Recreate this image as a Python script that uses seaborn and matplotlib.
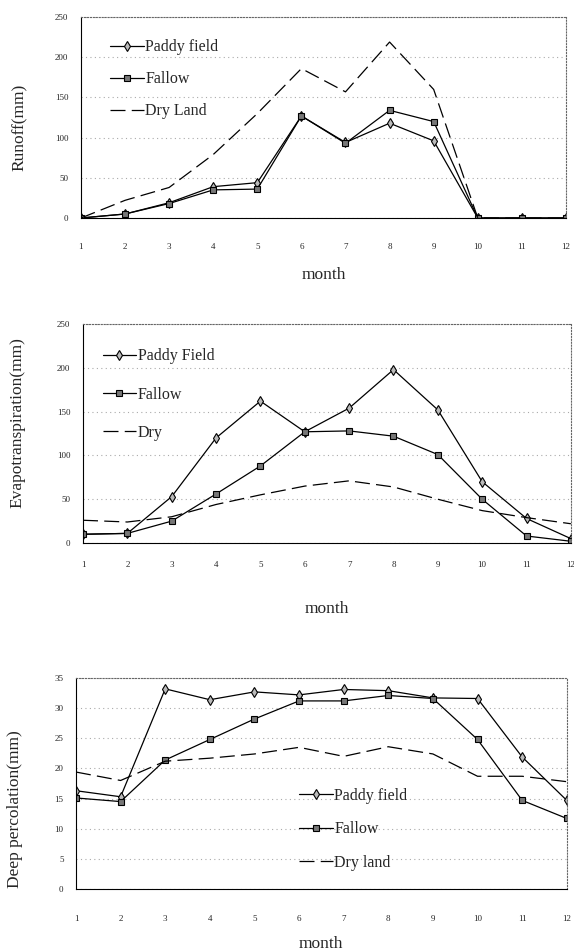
import numpy as np
import matplotlib
matplotlib.use("Agg")
import matplotlib.pyplot as plt
import seaborn as sns

sns.set_style("white")
plt.rcParams['font.family'] = ['Liberation Serif', 'DejaVu Serif']

# months 1-12
months = list(range(1, 13))

# runoff (mm)
paddy_runoff = [0, 5, 19, 39, 44, 127, 94, 118, 96, 0, 0, 0]
fallow_runoff = [0, 5, 18, 35, 36, 127, 93, 134, 120, 0, 0, 0]
dry_runoff = [0, 22, 38, 79, 130, 186, 157, 219, 160, 0, 0, 0]

# evapotranspiration (mm)
paddy_et = [10, 11, 53, 120, 162, 127, 154, 198, 152, 70, 28, 5]
fallow_et = [10, 11, 25, 56, 88, 127, 128, 122, 101, 50, 8, 2]
dry_et = [26, 24, 30, 44, 55, 65, 71, 64, 50, 37, 29, 22]

# deep percolation (mm)
paddy_dp = [16.3, 15.3, 33.2, 31.4, 32.7, 32.2, 33.1, 32.9, 31.7, 31.6, 21.9, 14.7]
fallow_dp = [15.1, 14.5, 21.4, 24.8, 28.2, 31.2, 31.2, 32.1, 31.6, 24.8, 14.7, 11.7]
dry_dp = [19.4, 18.0, 21.2, 21.7, 22.4, 23.5, 22.0, 23.6, 22.4, 18.7, 18.7, 17.8]

ylabels = ['Runoff(mm)', 'Evapotranspiration(mm)', 'Deep percolation(mm)']
legend_names = [
    ['Paddy field', 'Fallow', 'Dry Land'],
    ['Paddy Field', 'Fallow', 'Dry'],
    ['Paddy field', 'Fallow', 'Dry land'],
]
series = [
    (paddy_runoff, fallow_runoff, dry_runoff),
    (paddy_et, fallow_et, dry_et),
    (paddy_dp, fallow_dp, dry_dp),
]
ylims = [(0, 250, 50), (0, 250, 50), (0, 35, 5)]

# layout (figure fractions) and label offsets per panel
ax_rects = [
    [0.141, 0.771, 0.845, 0.211],
    [0.1446, 0.4296, 0.850, 0.230],
    [0.1324, 0.0662, 0.855, 0.2216],
]
tick_pads = [18, 13, 19]
xlabel_y = [-0.244, -0.265, -0.223]
ylabel_pos = [(-0.126, 0.45), (-0.135, 0.55), (-0.124, 0.38)]
legend_anchor = [(0.06, 0.89), (0.04, 0.89), (0.455, 0.48)]
legend_spacing = [1.0, 1.4, 1.1]

fig = plt.figure(figsize=(5.74, 9.52), dpi=100)

for i in range(3):
    ax = fig.add_axes(ax_rects[i])
    paddy, fallow, dry = series[i]
    names = legend_names[i]

    sns.lineplot(x=months, y=paddy, ax=ax, color='black', lw=0.9,
                 marker='d', markersize=5.5, markerfacecolor='#bbbbbb',
                 markeredgecolor='black', markeredgewidth=0.8, label=names[0])
    sns.lineplot(x=months, y=fallow, ax=ax, color='black', lw=0.9,
                 marker='s', markersize=5, markerfacecolor='#777777',
                 markeredgecolor='black', markeredgewidth=0.8, label=names[1])
    sns.lineplot(x=months, y=dry, ax=ax, color='black', lw=0.9,
                 linestyle=(0, (12, 5)), label=names[2])

    lo, hi, step = ylims[i]
    ax.set_xlim(1, 12)
    ax.set_ylim(lo, hi)
    ax.set_xticks(months)
    ax.set_yticks(np.arange(lo, hi + step, step))
    ax.tick_params(axis='x', length=0, pad=tick_pads[i], labelsize=6.5)
    ax.tick_params(axis='y', length=2, direction='in', pad=9, labelsize=6.5)
    ax.yaxis.grid(True, linestyle=(0, (1, 3)), color='#aaaaaa', lw=0.8)

    for s in ['top', 'right']:
        ax.spines[s].set_linestyle(':')
        ax.spines[s].set_color('#666666')
    ax.spines['left'].set_color('black')
    ax.spines['bottom'].set_color('black')

    ax.set_xlabel('month', fontsize=12.5)
    ax.xaxis.set_label_coords(0.5, xlabel_y[i])
    ax.set_ylabel(ylabels[i], fontsize=12.5, va='center')
    ax.yaxis.set_label_coords(*ylabel_pos[i])

    ax.legend(loc='upper left', bbox_to_anchor=legend_anchor[i], frameon=False,
              fontsize=11.5, handlelength=2.1, handletextpad=0.1,
              borderpad=0, borderaxespad=0, labelspacing=legend_spacing[i])

fig.savefig('out.png', dpi=100)
